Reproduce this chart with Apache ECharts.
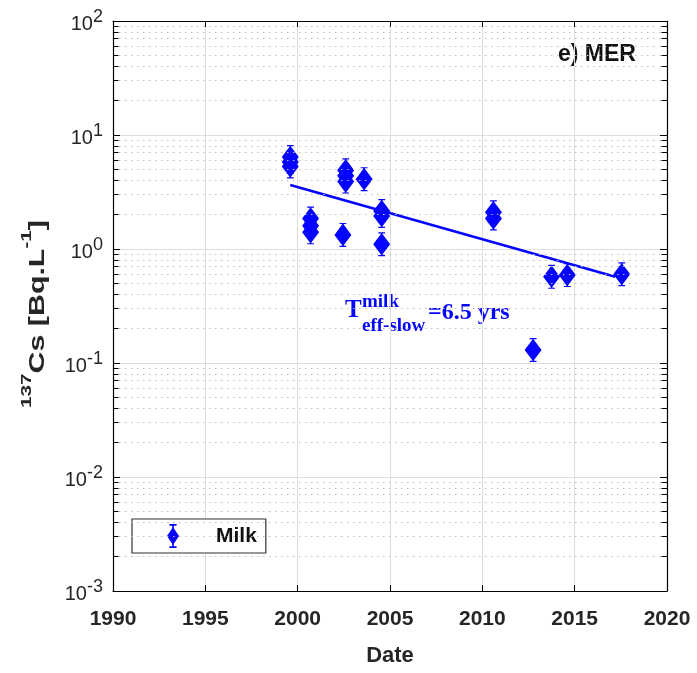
<!DOCTYPE html>
<html>
<head>
<meta charset="utf-8">
<script src="https://cdn.jsdelivr.net/npm/echarts@6/dist/echarts.min.js"></script>
<style>
html,body{margin:0;padding:0;background:#fff;}
#chart{width:697px;height:673px;}
</style>
</head>
<body>
<div id="chart"></div>
<script>
// ---- data ----
var milkYears  = [1999.6, 1999.6, 1999.6, 2000.7, 2000.7, 2000.7, 2002.45, 2002.6, 2002.6, 2002.6, 2003.6, 2004.55, 2004.55, 2004.55, 2010.6, 2010.6, 2012.75, 2013.75, 2014.6, 2017.55];
var milkValues = [6.4,    5.8,    5.3,    1.85,   1.6,    1.4,    1.33,    4.9,    4.4,    3.9,    4.1,    2.15,    1.95,    1.1,     2.1,    1.85,   0.13,    0.57,    0.59,   0.60];
var trendYears  = [1999.6, 2017.2];
var trendValues = [3.64, 0.57];
var xTicks = [1990, 1995, 2000, 2005, 2010, 2015, 2020];
var yDecades = [0.001, 0.01, 0.1, 1, 10];
var yMantissas = [2, 3, 4, 5, 6, 7, 8, 9];

var FONT = "'Liberation Sans', Arial, sans-serif";
var SERIF = "'Liberation Serif', 'Times New Roman', serif";
var BLUE = '#0505ff';
var symbolPath = 'path://M3,0H7V1H3Z M4.5,0H5.5V20H4.5Z M3,19H7V20H3Z M5,0.6L10,10L5,19.4L0,10Z';
var legendPath = 'path://M2,0H8V1.4H2Z M4.3,0H5.7V20H4.3Z M2,18.6H8V20H2Z M5,2.5L10,10L5,17.5L0,10Z';

var milkData = milkYears.map(function (y, i) { return [y, milkValues[i]]; });
var trendData = trendYears.map(function (y, i) { return [y, trendValues[i]]; });

var minorVals = [];
yDecades.forEach(function (d) { yMantissas.forEach(function (m) { minorVals.push(+(d * m).toPrecision(3)); }); });

var markData = [];
minorVals.forEach(function (v) {
  markData.push([{ coord: [1990, v] }, { coord: [2020, v] }]);
});
var tickData = [];
minorVals.forEach(function (v) {
  tickData.push([{ coord: [1990, v] }, { coord: [1990.3, v] }]);
  tickData.push([{ coord: [2019.7, v] }, { coord: [2020, v] }]);
});

var chart = echarts.init(document.getElementById('chart'));
var option = {
  backgroundColor: '#fff',
  animation: false,
  grid: { left: 113, right: 30, top: 21, bottom: 82, containLabel: false },
  xAxis: [{
    type: 'value', min: 1990, max: 2020, interval: 5,
    name: 'Date', nameLocation: 'middle', nameGap: 54,
    nameTextStyle: { fontFamily: FONT, fontWeight: 'bold', fontSize: 22, color: '#262626' },
    axisLine: { show: true, lineStyle: { color: '#000', width: 1.2 } },
    axisTick: { show: true, inside: true, length: 6, lineStyle: { color: '#000' } },
    axisLabel: { fontFamily: FONT, fontWeight: 'bold', fontSize: 21, color: '#262626', margin: 18,
      formatter: function (v) { return xTicks.indexOf(v) >= 0 ? String(v) : ''; } },
    splitLine: { show: true, lineStyle: { color: '#dedede', width: 1 } }
  }, {
    type: 'value', min: 1990, max: 2020, interval: 5, position: 'top',
    axisLine: { show: true, lineStyle: { color: '#000', width: 1.2 } },
    axisTick: { show: true, inside: true, length: 6, lineStyle: { color: '#000' } },
    axisLabel: { show: false }, splitLine: { show: false }
  }],
  yAxis: [{
    type: 'log', logBase: 10, min: 0.001, max: 100,
    axisLine: { show: true, lineStyle: { color: '#000', width: 1.2 } },
    axisTick: { show: true, inside: true, length: 7, lineStyle: { color: '#000' } },
    axisLabel: { margin: 10, color: '#262626',
      formatter: function (v) { var e = Math.round(Math.log10(v)); return '{b|10}{s|' + e + '}'; },
      rich: {
        b: { fontFamily: FONT, fontSize: 20, color: '#262626', lineHeight: 14, verticalAlign: 'bottom' },
        s: { fontFamily: FONT, fontSize: 18, color: '#262626', lineHeight: 26, verticalAlign: 'top' }
      } },
    splitLine: { show: true, lineStyle: { color: '#dedede', width: 1 } }
  }, {
    type: 'log', logBase: 10, min: 0.001, max: 100, position: 'right',
    axisLine: { show: true, lineStyle: { color: '#000', width: 1.2 } },
    axisTick: { show: true, inside: true, length: 7, lineStyle: { color: '#000' } },
    axisLabel: { show: false }, splitLine: { show: false }
  }],
  legend: {
    left: 132, top: 519, orient: 'horizontal',
    padding: [5, 9, 5, 35], itemWidth: 16, itemHeight: 24,
    borderColor: '#333', borderWidth: 1.2, backgroundColor: '#fff',
    data: [{ name: 'Milk', icon: legendPath }],
    formatter: function () { return '{p| }{t|Milk}'; },
    textStyle: { rich: {
      p: { width: 30 },
      t: { fontFamily: FONT, fontWeight: 'bold', fontSize: 21, color: '#111' }
    } }
  },
  series: [{
    name: 'minor', type: 'line', data: [], silent: true,
    markLine: { silent: true, symbol: ['none', 'none'], label: { show: false },
      lineStyle: { color: '#bdbdbd', width: 1, type: [1.5, 4.5] }, data: markData }
  }, {
    name: 'minorTicks', type: 'line', data: [], silent: true,
    markLine: { silent: true, symbol: ['none', 'none'], label: { show: false },
      lineStyle: { color: '#000', width: 1, type: 'solid' }, data: tickData }
  }, {
    name: 'trend', type: 'line', data: trendData, showSymbol: false, symbol: 'none',
    lineStyle: { color: BLUE, width: 2.6 }, z: 3
  }, {
    name: 'Milk', type: 'scatter', data: milkData, symbol: symbolPath, symbolSize: [17, 24],
    itemStyle: { color: BLUE, opacity: 1 }, z: 4
  }],
  graphic: [
    { type: 'text', x: 34, y: 314, rotation: Math.PI / 2, scaleX: 1.38,
      style: { text: '{s|137}{b|Cs [Bq.L}{s|-1}{b|]}', align: 'center', verticalAlign: 'middle',
        rich: {
          b: { fontFamily: FONT, fontWeight: 'bold', fontSize: 22, fill: '#262626', lineHeight: 18, verticalAlign: 'bottom' },
          s: { fontFamily: FONT, fontWeight: 'bold', fontSize: 15, fill: '#262626', lineHeight: 30, verticalAlign: 'top' }
        } } },
    { type: 'text', left: 558, top: 43, style: { text: 'e) MER', fontFamily: FONT, fontWeight: 'bold', fontSize: 23, fill: '#111' } },
    { type: 'text', x: 345, y: 311, style: { text: 'T', fontFamily: SERIF, fontWeight: 'bold', fontSize: 25, fill: BLUE, textVerticalAlign: 'middle' } },
    { type: 'text', x: 362, y: 302, style: { text: 'milk', fontFamily: SERIF, fontWeight: 'bold', fontSize: 19, fill: BLUE, textVerticalAlign: 'middle' } },
    { type: 'text', x: 362, y: 326, style: { text: 'eff-slow', fontFamily: SERIF, fontWeight: 'bold', fontSize: 19, fill: BLUE, textVerticalAlign: 'middle' } },
    { type: 'text', x: 428, y: 313, style: { text: '=6.5 yrs', fontFamily: SERIF, fontWeight: 'bold', fontSize: 24, fill: BLUE, textVerticalAlign: 'middle' } }
  ]
};
chart.setOption(option);
</script>
</body>
</html>
